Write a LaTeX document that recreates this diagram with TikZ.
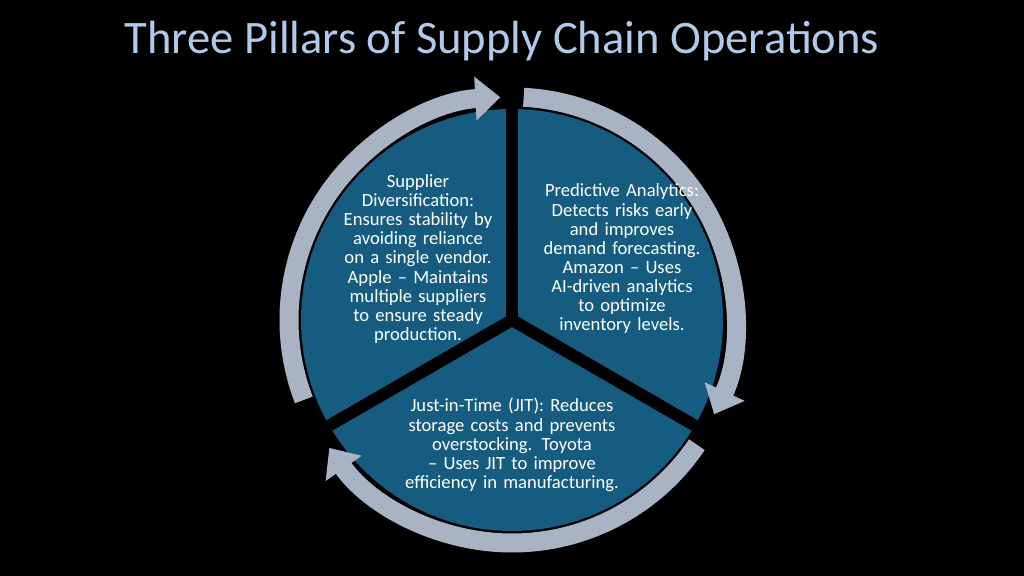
\documentclass[tikz,border=0pt]{standalone}
\usepackage{fontspec}
\setmainfont{Carlito}
\usetikzlibrary{arrows.meta}
\hyphenpenalty=10000
\exhyphenpenalty=50
\definecolor{pillarblue}{RGB}{22,92,128}
\definecolor{ringgray}{RGB}{168,180,196}
\definecolor{titleblue}{RGB}{178,202,234}
\tikzset{
    ring/.style={line width=0.38cm, ringgray, -{Triangle[length=0.5cm, width=0.85cm]}},
    gap/.style={line width=0.24cm, black},
    pillartext/.style={text=white, align=center, font=\fontsize{10.6}{10.9}\selectfont}
}
\begin{document}
\begin{tikzpicture}
        \fill[black] (0,0) rectangle (20.48,11.52);
        \coordinate (c) at (10.24,5.12);
        % Title
        \node[text=titleblue, font=\fontsize{26.5}{30}\selectfont] (title) at (10.04,10.7)
            {Three Pillars of Supply Chain Operations};
        % Disk
        \fill[pillarblue] (c) circle (4.22);
        % Gaps
        \foreach \a in {90, -30, 210}
        {
            \draw[gap] (c) -- ++(\a:4.3);
        }
        % Ring
        \draw[ring] ([shift={(201:4.46)}]c) arc [radius=4.46, start angle=201, end angle=93];
        \draw[ring] ([shift={(87:4.46)}]c) arc [radius=4.46, start angle=87, end angle=-25];
        \draw[ring] ([shift={(-34:4.46)}]c) arc [radius=4.46, start angle=-34, end angle=-145];
        % Texts
        \node[pillartext, text width=3.2cm] (supplier) at (8.36,6.34)
            {Supplier Diversification: Ensures stability by avoiding reliance on a single vendor. Apple -- Maintains multiple suppliers to ensure steady production.};
        \node[pillartext, text width=3.2cm] (analytics) at (12.44,6.34)
            {Predictive Analytics: Detects risks early and improves demand forecasting. Amazon -- Uses AI-driven analytics to optimize inventory levels.};
        \node[pillartext, text width=4.6cm] (jit) at (10.24,2.62)
            {Just-in-Time (JIT): Reduces storage costs and prevents overstocking. Toyota -- Uses JIT to improve efficiency in manufacturing.};
\end{tikzpicture}
\end{document}
